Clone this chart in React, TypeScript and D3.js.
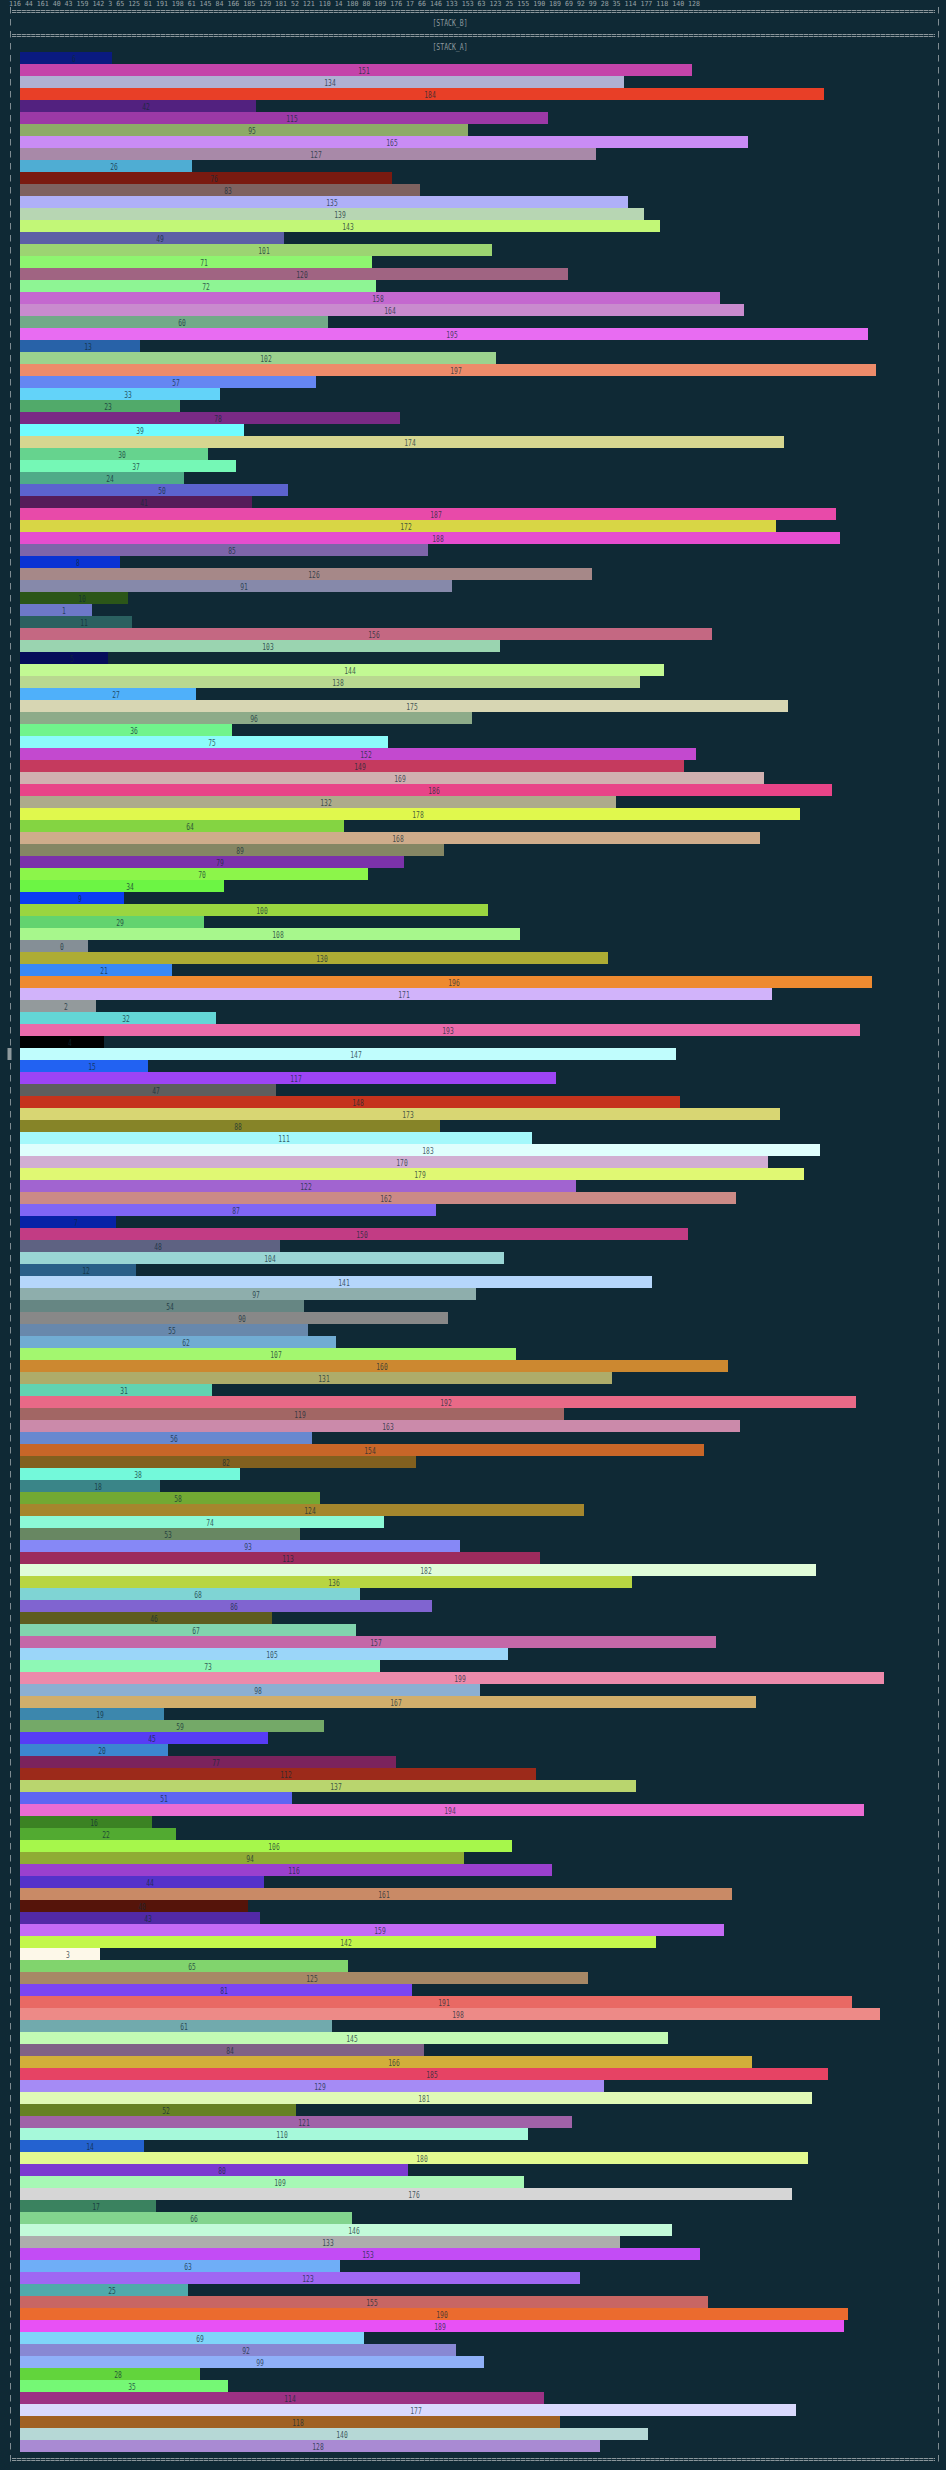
import React, { useRef, useEffect } from 'react';
import * as d3 from 'd3';

// bar values, top to bottom
const values: number[] = [
  6, 151, 134, 184, 42, 115, 95, 165, 127, 26,
  76, 83, 135, 139, 143, 49, 101, 71, 120, 72,
  158, 164, 60, 195, 13, 102, 197, 57, 33, 23,
  78, 39, 174, 30, 37, 24, 50, 41, 187, 172,
  188, 85, 8, 126, 91, 10, 1, 11, 156, 103,
  5, 144, 138, 27, 175, 96, 36, 75, 152, 149,
  169, 186, 132, 178, 64, 168, 89, 79, 70, 34,
  9, 100, 29, 108, 0, 130, 21, 196, 171, 2,
  32, 193, 4, 147, 15, 117, 47, 148, 173, 88,
  111, 183, 170, 179, 122, 162, 87, 7, 150, 48,
  104, 12, 141, 97, 54, 90, 55, 62, 107, 160,
  131, 31, 192, 119, 163, 56, 154, 82, 38, 18,
  58, 124, 74, 53, 93, 113, 182, 136, 68, 86,
  46, 67, 157, 105, 73, 199, 98, 167, 19, 59,
  45, 20, 77, 112, 137, 51, 194, 16, 22, 106,
  94, 116, 44, 161, 40, 43, 159, 142, 3, 65,
  125, 81, 191, 198, 61, 145, 84, 166, 185, 129,
  181, 52, 121, 110, 14, 180, 80, 109, 176, 17,
  66, 146, 133, 153, 63, 123, 25, 155, 190, 189,
  69, 92, 99, 28, 35, 114, 177, 118, 140, 128,
];

const barColours: string[] = [
  '#0a1a80', '#c444aa', '#afb1d3', '#e83f27', '#52217f', '#9c39a6', '#8dab67', '#c98cf5', '#a889a8', '#4fadd3',
  '#7a1a10', '#7e6260', '#afb0f8', '#b7d6b3', '#c2f777', '#5d5fa6', '#9cd472', '#8ef570', '#a06482', '#8ef594',
  '#c468cf', '#c98bce', '#72aa88', '#e86cf2', '#2862a8', '#9bd28e', '#ed8b6a', '#6586f2', '#63d3f9', '#51aa6a',
  '#7a2a85', '#6ffcff', '#d6d690', '#66d38e', '#75f8b6', '#4fab88', '#5c63ce', '#561c59', '#e84aa9', '#d8d645',
  '#e64dcf', '#7e65aa', '#0a33d3', '#a68888', '#8689aa', '#2b5618', '#6d78c8', '#2a6060', '#c46882', '#9ad4b0',
  '#050d5a', '#c2f993', '#b9d890', '#4fb0fa', '#d7d6b3', '#8dab89', '#71f48c', '#8cfbfb', '#c349cf', '#c53a5e',
  '#d0b0b0', '#e84488', '#adab8b', '#e0f84d', '#84d442', '#cfac8b', '#858664', '#7b32aa', '#8cf54a', '#6cf544',
  '#0b3cf3', '#9ad540', '#63d36f', '#a7f78c', '#858f96', '#adac34', '#3989f5', '#ee8a30', '#d1b3fa', '#939a9c',
  '#63d6d6', '#ea6aaa', '#000000', '#c0fdfd', '#2262f2', '#9d44f5', '#5e5e5e', '#c5331d', '#d8d673', '#868428',
  '#a4f8fb', '#dffefd', '#d1aed2', '#e0f873', '#a164d0', '#cb8a86', '#8066f5', '#0722a6', '#c23c84', '#5e6282',
  '#9ad5d4', '#2a5f88', '#b5d6fb', '#8eaeac', '#668683', '#888888', '#6888ac', '#71acd3', '#a3f76f', '#cc8830',
  '#aeac6a', '#62d3b1', '#e96987', '#a26664', '#cb8aaa', '#6888cf', '#c86628', '#82601f', '#73f9da', '#3a8588',
  '#72a933', '#a5862d', '#8cf9d6', '#688762', '#8688f6', '#9c2b5d', '#e0fcd9', '#b8d542', '#7fd4d4', '#8064d0',
  '#5e5c1f', '#81d4ae', '#c468a8', '#9bd6f9', '#8ef8b5', '#ec8aab', '#8cafd2', '#d1ae6b', '#3c87ad', '#74a968',
  '#573cf5', '#3c86d0', '#7b235d', '#9c2a1a', '#b9d56e', '#5e65f3', '#ea6cd3', '#3b8223', '#52aa31', '#a6f74b',
  '#8fac34', '#9a40ce', '#5432ca', '#c98a66', '#55140a', '#5229a6', '#c46af5', '#c3f74b', '#fdf8e9', '#81d46d',
  '#a78866', '#7c45f3', '#e96964', '#ed8a87', '#71aaad', '#c2fab4', '#806186', '#d2ae3a', '#e64364', '#a58bf5',
  '#e0f9b6', '#668124', '#a062a8', '#a6f9da', '#2462d0', '#e2fa90', '#7c3ad0', '#a7f8b5', '#d6d6d6', '#3a825f',
  '#82d48e', '#c2fad9', '#adadad', '#c34cf5', '#6faef7', '#a067f3', '#4faaab', '#c86663', '#eb6b2e', '#e851f5',
  '#7fd5f9', '#8888d3', '#8fb0f8', '#62d43c', '#75f875', '#9c3184', '#d9d9fd', '#a06123', '#b6d8d6', '#a98ad3',
];

const stackLabels: string[] = ['[STACK_B]', '[STACK_A]'];

const W = 946;
const H = 2470;
const LINE = 12; // terminal line height
const FONT = 'DejaVu Sans Mono, Liberation Mono, monospace';

const App: React.FC = () => {
  const svgRef = useRef<SVGSVGElement | null>(null);

  useEffect(() => {
    document.body.style.margin = '0';
    if (!svgRef.current) return;
    const svg = d3.select(svgRef.current);
    svg.selectAll('*').remove();

    svg.append('rect').attr('width', W).attr('height', H).attr('fill', '#0f2935');

    const lineY = (k: number) => 10 + k * LINE; // centre of terminal line k
    const nLines = values.length + 5;

    // the tail of the wrapped value dump at the very top
    const dump = values.slice(-49).join(' ');
    svg.append('text')
      .attr('x', 9)
      .attr('y', 5.5)
      .attr('font-family', FONT)
      .attr('font-size', 7)
      .attr('fill', '#9aa4a8')
      .attr('textLength', 691)
      .attr('lengthAdjust', 'spacingAndGlyphs')
      .text(dump);

    // frame side bars
    const frame = svg.append('g').attr('stroke', '#7f8c92').attr('stroke-width', 1);
    for (let k = 0; k < nLines; k++) {
      const yc = lineY(k);
      frame.append('line').attr('x1', 10.5).attr('x2', 10.5).attr('y1', yc - 3).attr('y2', yc + 3.5);
      frame.append('line').attr('x1', 938.5).attr('x2', 938.5).attr('y1', yc - 3).attr('y2', yc + 3.5);
    }
    // scroll thumb
    svg.append('rect').attr('x', 7.5).attr('y', lineY(87) - 6).attr('width', 4).attr('height', LINE).attr('fill', '#8f9a9e');

    // double rules
    [0, 2, nLines - 1].forEach(k => {
      const yc = lineY(k);
      [yc + 0.5, yc + 2.5].forEach(y => {
        svg.append('line')
          .attr('x1', 12).attr('x2', 935)
          .attr('y1', y).attr('y2', y)
          .attr('stroke', '#9aa3a7')
          .attr('stroke-width', 0.9)
          .attr('stroke-dasharray', '4.3 0.5');
      });
    });

    stackLabels.forEach((s, i) => {
      svg.append('text')
        .attr('x', 450)
        .attr('y', lineY(1 + i * 2) + 4)
        .attr('text-anchor', 'middle')
        .attr('font-family', FONT)
        .attr('font-size', 9)
        .attr('fill', '#8e9a9f')
        .attr('textLength', s.length * 3.9)
        .attr('lengthAdjust', 'spacingAndGlyphs')
        .text(s);
    });

    const x = d3.scaleLinear().domain([-17, 199]).range([20, 884]);
    const y = d3.scaleBand<number>()
      .domain(d3.range(values.length))
      .range([52, 52 + values.length * LINE])
      .padding(0);

    const rows = svg.append('g')
      .selectAll('g')
      .data(values)
      .enter().append('g');

    rows.append('rect')
      .attr('x', x(-17))
      .attr('y', (_, i) => y(i) as number)
      .attr('width', d => x(d) - x(-17))
      .attr('height', y.bandwidth())
      .attr('fill', (_, i) => barColours[i]);

    rows.append('text')
      .attr('x', d => (x(-17) + x(d)) / 2 + 8)
      .attr('y', (_, i) => (y(i) as number) + 9.5)
      .attr('text-anchor', 'middle')
      .attr('font-family', FONT)
      .attr('font-size', 8)
      .attr('fill', '#0f2935')
      .attr('fill-opacity', 0.75)
      .attr('textLength', d => String(d).length * 3.8)
      .attr('lengthAdjust', 'spacingAndGlyphs')
      .text(d => String(d));
  }, []);

  return <svg ref={svgRef} width={W} height={H} style={{ display: 'block' }} />;
};

export default App;
